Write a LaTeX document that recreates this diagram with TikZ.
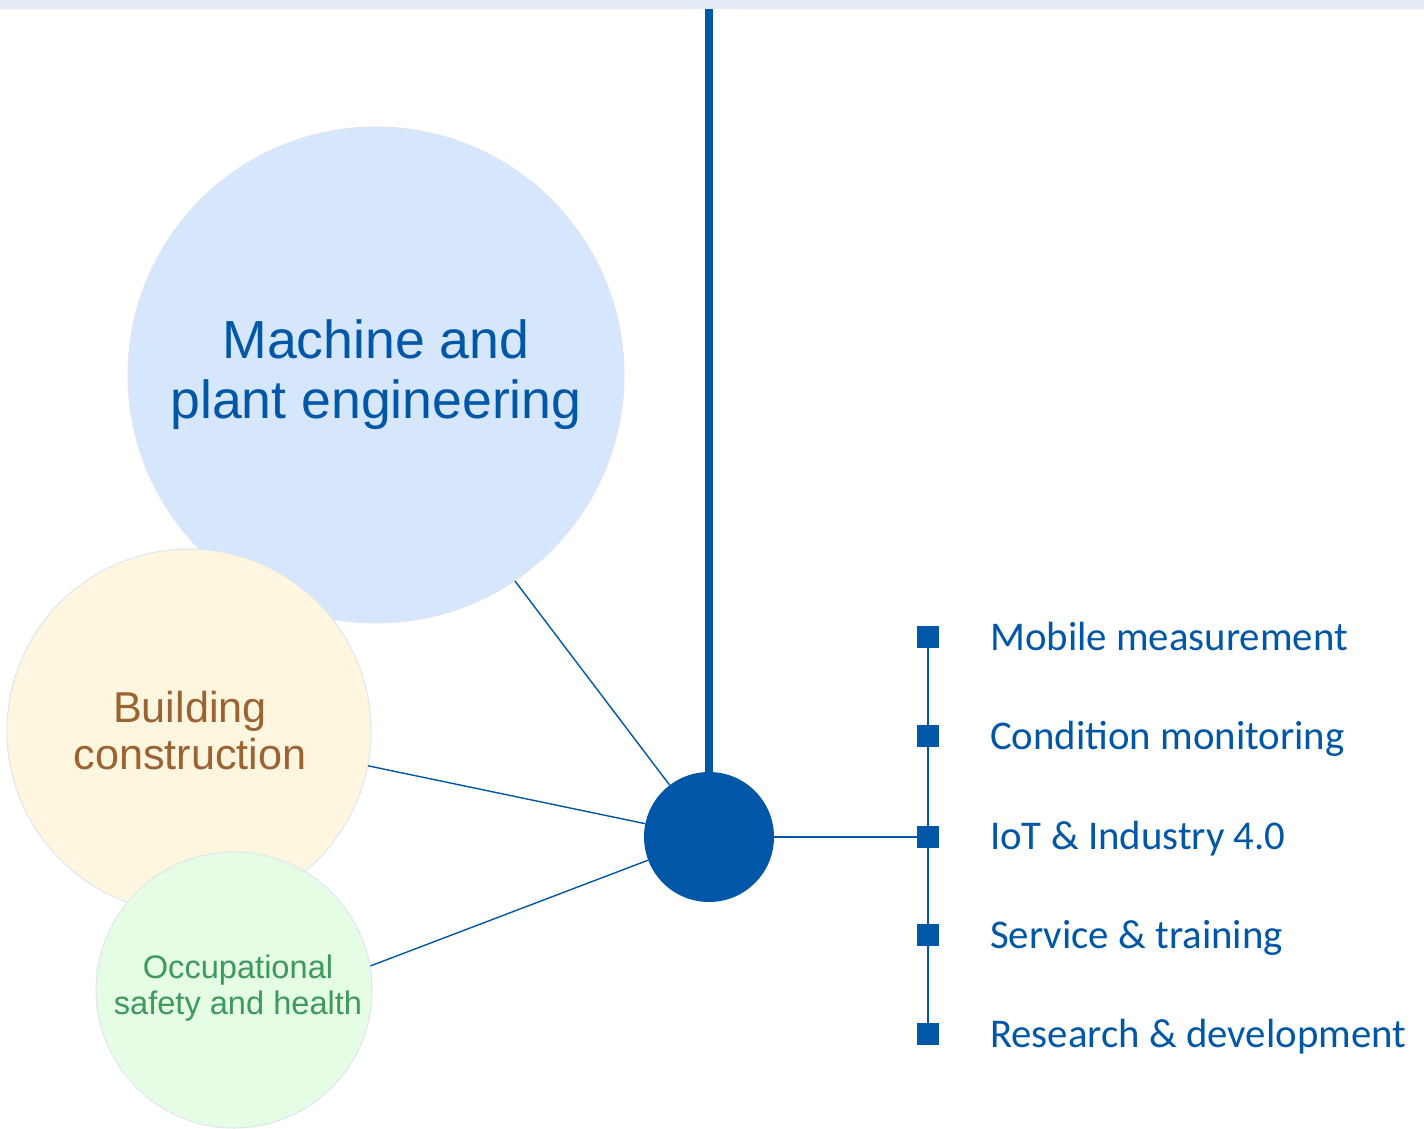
\documentclass[tikz,border=0pt]{standalone}
\usepackage{fontspec}
\setmainfont{Liberation Sans}
\newfontfamily\listfont{Carlito}
\definecolor{brand}{HTML}{0057A8}
\definecolor{band}{HTML}{E6ECF6}
\definecolor{rim}{HTML}{DDE6F2}
\definecolor{machfill}{HTML}{D6E6FD}
\definecolor{buildfill}{HTML}{FFF6E0}
\definecolor{buildtext}{HTML}{9B6331}
\definecolor{safefill}{HTML}{E5FCE5}
\definecolor{safetext}{HTML}{3D9A5A}
\tikzset{
  sector/.style={circle, draw=rim, line width=1pt, inner sep=0pt, align=center},
  link/.style={draw=brand, line width=1.4pt},
  bullet/.style={rectangle, fill=brand, minimum size=22pt, inner sep=0pt},
  item/.style={anchor=base west, inner sep=0pt, text=brand, font=\listfont\fontsize{40.8}{48}\selectfont},
}
\begin{document}
\begin{tikzpicture}[x=1pt, y=-1pt]
  % canvas and top band
  \fill[white] (0,0) rectangle (1424,1129);
  \useasboundingbox (0,0) rectangle (1424,1129);
  \fill[band] (0,0) rectangle (1424,9);

  % sector circles
  \node[sector, fill=machfill, minimum size=496pt, text=brand,
        font=\fontsize{53.6}{60}\selectfont] (mach) at (376,375)
        {Machine and\\plant engineering};
  \node[sector, fill=buildfill, minimum size=364pt, text=buildtext,
        font=\fontsize{43.2}{47}\selectfont] (build) at (189,731)
        {\hspace*{2pt}Building\\\hspace*{2pt}construction};
  \node[sector, fill=safefill, minimum size=276pt, text=safetext,
        font=\fontsize{32.6}{36}\selectfont] (safe) at (234,990)
        {\hspace*{8pt}\raisebox{10pt}{Occupational}\\\hspace*{8pt}\raisebox{10pt}{safety and health}};

  % central hub and trunk
  \coordinate (top) at (709,9);
  \node[circle, fill=brand, minimum size=130pt, inner sep=0pt] (hub) at (709,837) {};
  \draw[brand, line width=8pt] (top) -- (hub.north);

  % spokes to the sectors
  \draw[link] (hub) -- (mach.-56.6);
  \draw[link] (hub) -- (build.-11.9);
  \draw[link] (hub) -- (safe.10);

  % list of applications
  \node[bullet] (s1) at (928,637) {};
  \node[bullet] (s2) at (928,736) {};
  \node[bullet] (s3) at (928,837) {};
  \node[bullet] (s4) at (928,935) {};
  \node[bullet] (s5) at (928,1034) {};
  \draw[link] (s1) -- (s2);
  \draw[link] (s2) -- (s3);
  \draw[link] (s3) -- (s4);
  \draw[link] (s4) -- (s5);
  \draw[link] (hub.east) -- (s3.west);

  \node[item] (t1) at (990,650) {Mobile measurement};
  \node[item] (t2) at (990,749) {Condition monitoring};
  \node[item] (t3) at (990,849) {IoT \& Industry 4.0};
  \node[item] (t4) at (990,948) {Service \& training};
  \node[item] (t5) at (990,1047) {Research \& development};
\end{tikzpicture}
\end{document}
